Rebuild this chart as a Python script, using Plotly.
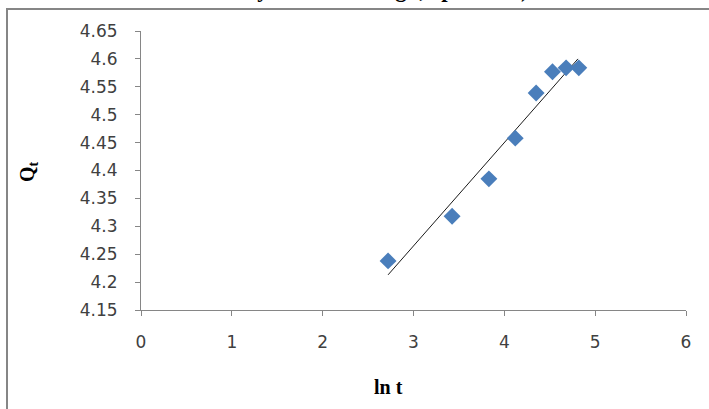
import plotly.graph_objects as go

# data
ln_t = [2.72, 3.425, 3.83, 4.12, 4.35, 4.53, 4.68, 4.82]
q_t = [4.238, 4.318, 4.385, 4.458, 4.539, 4.577, 4.584, 4.584]
trend_x = [2.72, 4.81]
trend_y = [4.213, 4.600]
x_ticks = [0, 1, 2, 3, 4, 5, 6]
y_ticks = [4.15, 4.2, 4.25, 4.3, 4.35, 4.4, 4.45, 4.5, 4.55, 4.6, 4.65]
y_tick_text = ["4.15", "4.2", "4.25", "4.3", "4.35", "4.4", "4.45", "4.5", "4.55", "4.6", "4.65"]
title_text = "cyanide: 100 mg/l, rpm: 125)"

W, H = 709, 409
L, R, T, B = 141, 23, 31, 99
pw, ph = W - L - R, H - T - B

def px(x):
    return (x - L) / pw

def py(y):
    return (H - B - y) / ph

axis_color = "#868686"
tick_font = dict(family="DejaVu Sans", size=17, color="#404040")

fig = go.Figure()
fig.add_trace(go.Scatter(x=trend_x, y=trend_y, mode="lines",
                         line=dict(color="#1a1a1a", width=1), showlegend=False))
fig.add_trace(go.Scatter(x=ln_t, y=q_t, mode="markers",
                         marker=dict(symbol="diamond", size=13, color="#4a7ebb",
                                     line=dict(width=0)), showlegend=False))

fig.update_layout(
    width=W, height=H,
    margin=dict(l=L, r=R, t=T, b=B),
    paper_bgcolor="white", plot_bgcolor="white",
    xaxis=dict(range=[0, 6], tickvals=x_ticks, showgrid=False, zeroline=False,
               showline=True, linecolor=axis_color, linewidth=1,
               ticks="outside", ticklen=5, tickcolor=axis_color,
               tickfont=tick_font, ticklabelstandoff=12),
    yaxis=dict(range=[4.15, 4.65], tickvals=y_ticks, ticktext=y_tick_text,
               showgrid=False, zeroline=False,
               showline=True, linecolor=axis_color, linewidth=1,
               ticks="outside", ticklen=5, tickcolor=axis_color,
               tickfont=tick_font, ticklabelstandoff=14),
    shapes=[dict(type="rect", xref="paper", yref="paper",
                 x0=px(7), x1=px(760), y0=py(9), y1=py(460),
                 line=dict(color=axis_color, width=2), layer="above")],
    annotations=[
        dict(text="<b>" + title_text + "</b>", xref="paper", yref="paper",
             x=px(388), y=py(4), xanchor="center", yanchor="bottom",
             showarrow=False, font=dict(family="Liberation Serif", size=23, color="black")),
        dict(text="<b>ln t</b>", xref="paper", yref="paper",
             x=px(388), y=py(387), xanchor="center", yanchor="middle",
             showarrow=False, font=dict(family="Liberation Serif", size=20, color="black")),
        dict(text="<b>Q<sub>t</sub></b>", xref="paper", yref="paper",
             x=px(28), y=py(172), xanchor="center", yanchor="middle", textangle=-90,
             showarrow=False, font=dict(family="Liberation Serif", size=20, color="black")),
    ],
)

fig.write_html("out.html")
